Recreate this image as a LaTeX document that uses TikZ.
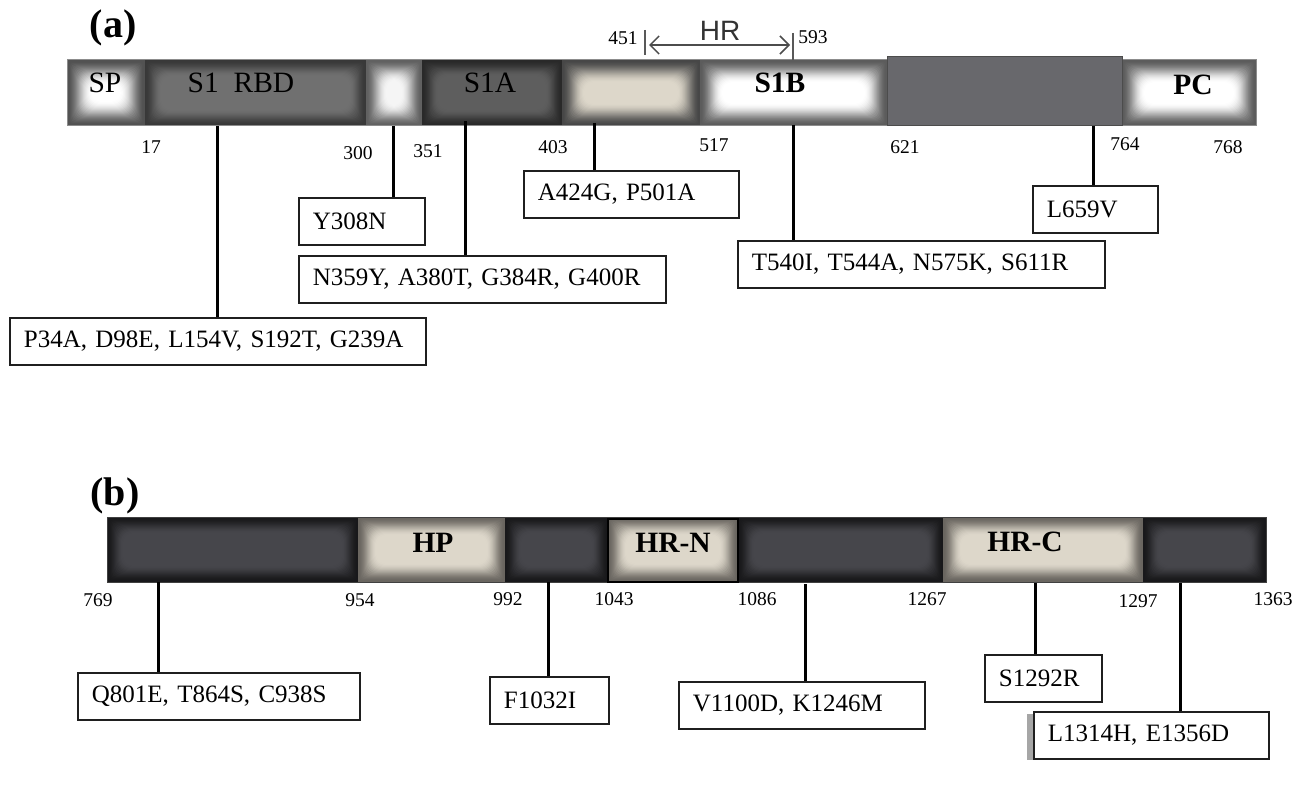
\documentclass[tikz,border=0pt]{standalone}
\usepackage{fontspec}
\setmainfont{Liberation Serif}
\newfontfamily\hrfont{Liberation Sans}
\usetikzlibrary{arrows.meta}
\definecolor{segdark}{HTML}{18181A}
\definecolor{segdarkin}{HTML}{46464B}
\definecolor{beigeout}{HTML}{6A6660}
\definecolor{beigein}{HTML}{DDD7CA}
\definecolor{greyblock}{HTML}{68686C}
\newcommand{\glowrect}[7]{%
  \colorlet{gouter}{#5}\colorlet{ginner}{#6}%
  \fill[gouter] (#1,#2) rectangle (#3,#4);
  \foreach \i in {1,...,#7}{%
    \pgfmathsetmacro\tt{\i/#7}%
    \pgfmathtruncatemacro\pp{100*(3*\tt*\tt-2*\tt*\tt*\tt)}%
    \pgfmathsetmacro\rr{min(\i,10)}%
    \fill[ginner!\pp!gouter, rounded corners=\rr pt] ({#1+\i},{#2+\i}) rectangle ({#3-\i},{#4-\i});
  }%
}
\newcommand{\boxfont}{\fontsize{25}{28}\selectfont}
\newcommand{\numfont}{\fontsize{19.5}{22}\selectfont}
\newcommand{\segfont}{\fontsize{29.5}{32}\selectfont}
\tikzset{
  boxlbl/.style={draw=black!88, line width=1.8pt, fill=white, anchor=north west,
    inner xsep=14pt, inner ysep=0pt, minimum height=47pt, align=left, font=\boxfont},
  numlbl/.style={font=\numfont, inner sep=0pt},
  seglbl/.style={font=\segfont, inner sep=0pt},
  bseglbl/.style={font=\segfont\bfseries, inner sep=0pt},
  conn/.style={line width=3pt, black},
  hrtick/.style={line width=1.2pt, black!65},
  hrarrow/.style={line width=1.5pt, black!70, {Straight Barb[length=9pt,width=18pt]}-{Straight Barb[length=9pt,width=18pt]}},
}
\begin{document}
\begin{tikzpicture}[x=1pt,y=-1pt]
\useasboundingbox (0,0) rectangle (1306,786);
\fill[white] (0,0) rectangle (1306,786);

% ---------------- panel (a) ----------------
\node[font=\fontsize{40}{44}\selectfont\bfseries, inner sep=0pt] (pa) at (113,28) {(a)};

\glowrect{67}{60}{145}{126}{black!68}{white}{24}
\glowrect{145}{60}{366}{126}{black!78}{black!56}{16}
\glowrect{366}{60}{422}{126}{black!62}{black!4}{20}
\glowrect{422}{60}{562}{126}{black!84}{black!63}{16}
\glowrect{562}{60}{700}{126}{black!72}{beigein}{22}
\glowrect{700}{60}{887}{126}{black!64}{white}{22}
\glowrect{1122}{60}{1256}{126}{black!64}{white}{22}
\draw[black!45, line width=1pt] (67,60) rectangle (1256,126);
\fill[greyblock, draw=black!70, line width=1pt] (887,57) rectangle (1122,126);

\node[seglbl] (sp) at (105,83) {SP};
\node[seglbl] (rbd) at (241,83) {S1\ \ RBD};
\node[seglbl] (s1a) at (490,83) {S1A};
\node[bseglbl] (s1b) at (780,83) {S1B};
\node[bseglbl] (pc) at (1193,85) {PC};

% HR marker
\node[font=\hrfont\fontsize{28}{30}\selectfont, text=black!80, inner sep=0pt] (hr) at (720,31) {HR};
\coordinate (hrl) at (649,45);
\coordinate (hrr) at (790,45);
\draw[hrarrow] (hrl) -- (hrr);
\draw[hrtick] (645,30) -- (645,55);
\draw[hrtick] (793,33) -- (793,60);
\node[numlbl] (n451) at (623,38) {451};
\node[numlbl] (n593) at (813,37) {593};

% numbers
\node[numlbl] (n17) at (151,147) {17};
\node[numlbl] (n300) at (358,153) {300};
\node[numlbl] (n351) at (428,151) {351};
\node[numlbl] (n403) at (553,147) {403};
\node[numlbl] (n517) at (714,145) {517};
\node[numlbl] (n621) at (905,147) {621};
\node[numlbl] (n764) at (1125,144) {764};
\node[numlbl] (n768) at (1228,147) {768};

% boxes
\node[boxlbl, text width=388pt] (a1) at (9,317) {P34A, D98E, L154V, S192T, G239A};
\node[boxlbl, text width=98pt] (a2) at (298,197) {Y308N};
\node[boxlbl, text width=339pt] (a3) at (298,255) {N359Y, A380T, G384R, G400R};
\node[boxlbl, text width=187pt] (a4) at (523,170) {A424G, P501A};
\node[boxlbl, text width=339pt] (a5) at (737,240) {T540I, T544A, N575K, S611R};
\node[boxlbl, text width=97pt] (a6) at (1032,185) {L659V};

\coordinate (ca1) at (217,126);
\coordinate (ca2) at (393,126);
\coordinate (ca3) at (465,121);
\coordinate (ca4) at (594,123);
\coordinate (ca5) at (793,125);
\coordinate (ca6) at (1093,126);
\draw[conn] (ca1) -- (ca1 |- a1.north);
\draw[conn] (ca2) -- (ca2 |- a2.north);
\draw[conn] (ca3) -- (ca3 |- a3.north);
\draw[conn] (ca4) -- (ca4 |- a4.north);
\draw[conn] (ca5) -- (ca5 |- a5.north);
\draw[conn] (ca6) -- (ca6 |- a6.north);

% ---------------- panel (b) ----------------
\node[font=\fontsize{40}{44}\selectfont\bfseries, inner sep=0pt] (pb) at (115,496) {(b)};

\glowrect{107}{517}{358}{582}{segdark}{segdarkin}{16}
\glowrect{358}{517}{505}{582}{beigeout}{beigein}{18}
\glowrect{505}{517}{608}{582}{segdark}{segdarkin}{16}
\glowrect{608}{517}{738}{582}{beigeout}{beigein}{18}
\glowrect{738}{517}{943}{582}{segdark}{segdarkin}{16}
\glowrect{943}{517}{1143}{582}{beigeout}{beigein}{18}
\glowrect{1143}{517}{1266}{582}{segdark}{segdarkin}{16}
\draw[black!75, line width=1pt] (107,517) rectangle (1266,582);
\draw[black, line width=1.5pt] (608,519) rectangle (738,582);

\node[bseglbl] (hp) at (433,543) {HP};
\node[bseglbl] (hrn) at (673,543) {HR-N};
\node[bseglbl] (hrc) at (1025,542) {HR-C};

\node[numlbl] (n769) at (98,600) {769};
\node[numlbl] (n954) at (360,600) {954};
\node[numlbl] (n992) at (508,599) {992};
\node[numlbl] (n1043) at (614,599) {1043};
\node[numlbl] (n1086) at (757,599) {1086};
\node[numlbl] (n1267) at (927,599) {1267};
\node[numlbl] (n1297) at (1138,601) {1297};
\node[numlbl] (n1363) at (1273,599) {1363};

\fill[black!35] (1027,714) rectangle (1035,760);
\node[boxlbl, text width=254pt] (b1) at (77,672) {Q801E, T864S, C938S};
\node[boxlbl, text width=91pt] (b2) at (489,676) {F1032I};
\node[boxlbl, text width=218pt] (b3) at (678,681) {V1100D, K1246M};
\node[boxlbl, text width=89pt] (b4) at (984,654) {S1292R};
\node[boxlbl, text width=207pt] (b5) at (1033,711) {L1314H, E1356D};

\coordinate (cb1) at (158,582);
\coordinate (cb2) at (548,582);
\coordinate (cb3) at (805,584);
\coordinate (cb4) at (1035,583);
\coordinate (cb5) at (1180,583);
\draw[conn] (cb1) -- (cb1 |- b1.north);
\draw[conn] (cb2) -- (cb2 |- b2.north);
\draw[conn] (cb3) -- (cb3 |- b3.north);
\draw[conn] (cb4) -- (cb4 |- b4.north);
\draw[conn] (cb5) -- (cb5 |- b5.north);
\end{tikzpicture}
\end{document}
